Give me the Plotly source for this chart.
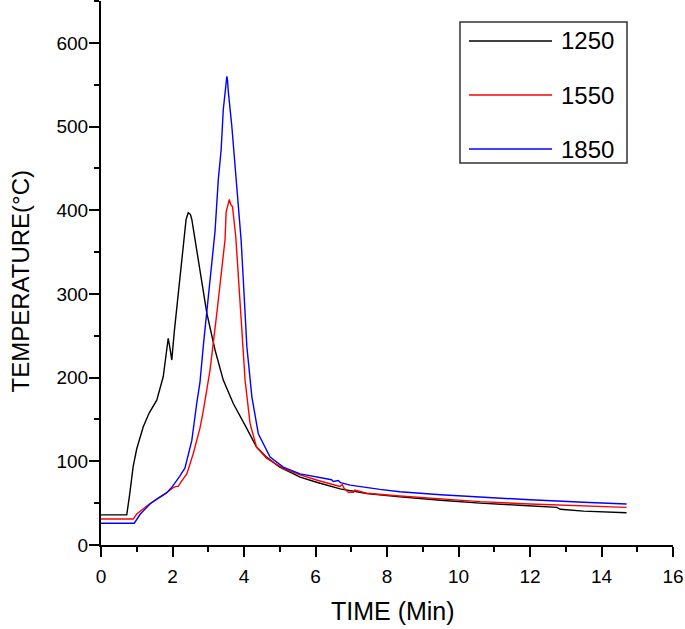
import plotly.graph_objects as go

# ---- data ----
t_1250 = [0, 0.72, 0.8, 0.9, 1.0, 1.18, 1.35, 1.56, 1.74, 1.82, 1.88, 1.93, 1.98, 2.05,
          2.16, 2.30, 2.38, 2.44, 2.50, 2.54, 2.65, 2.77, 2.96, 3.19, 3.42, 3.70, 3.94,
          4.00, 4.08, 4.35, 4.63, 5.0, 5.57, 6.03, 6.69, 7.43, 8.36, 9.5, 10.6, 11.7,
          12.75, 12.85, 13.5, 14.7]
y_1250 = [36, 36, 60, 94, 115, 141, 158, 173, 201, 225, 247, 235, 221, 255,
          301, 357, 389, 397, 395, 389, 360, 329, 277, 233, 197, 169, 149,
          145, 139, 117, 105, 93, 81, 75, 67, 61.5, 57.5, 53.5, 50, 47.5,
          45, 42.7, 40.5, 38.6]

t_1550 = [0, 0.9, 1.0, 1.18, 1.37, 1.74, 2.02, 2.10, 2.16, 2.25, 2.40, 2.58, 2.68, 2.77,
          2.86, 3.05, 3.24, 3.38, 3.47, 3.50, 3.55, 3.59, 3.63, 3.68, 3.77, 3.84, 3.94,
          4.03, 4.17, 4.35, 4.63, 5.10, 5.57, 6.03, 6.5, 6.68, 6.75, 6.80, 6.92, 7.06,
          7.1, 7.43, 8.36, 9.5, 10.6, 12.0, 13.5, 14.7]
y_1550 = [31, 31, 37, 43.6, 49.6, 59.5, 68.6, 70, 70, 76, 85, 109, 125, 140,
          160, 209, 277, 329, 365, 398, 408, 413, 407, 404, 368, 317, 257,
          197, 145, 117, 103.6, 91.6, 83.7, 77.7, 71.7, 70, 72, 67.7, 63, 63,
          65.7, 61.8, 58.6, 55, 51.8, 49, 47, 45]

t_1850 = [0, 0.93, 1.1, 1.37, 1.6, 1.84, 2.0, 2.12, 2.20, 2.35, 2.45, 2.54, 2.68, 2.77,
          2.86, 3.05, 3.19, 3.28, 3.36, 3.42, 3.47, 3.52, 3.54, 3.56, 3.66, 3.75, 3.84,
          3.92, 3.98, 4.08, 4.22, 4.40, 4.73, 5.1, 5.57, 6.03, 6.45, 6.5, 6.64, 6.7,
          6.97, 7.8, 8.36, 9.5, 10.6, 12.0, 13.5, 14.7]
y_1850 = [26, 26, 37, 49, 56, 62.5, 70, 77, 82, 92, 108, 125, 170, 195,
          237, 317, 375, 436, 472, 520, 545, 560, 555, 542, 500, 452, 404,
          364, 317, 237, 177, 133, 105, 93, 85, 81, 78, 76, 77, 74.5,
          71.5, 66.5, 63.7, 60, 57, 54, 51, 49]

series_names = ["1250", "1550", "1850"]
series_colors = ["#000000", "#ff0000", "#0000ff"]
series_t = [t_1250, t_1550, t_1850]
series_y = [y_1250, y_1550, y_1850]

x_title = "TIME (Min)"
y_title = "TEMPERATURE(\u00b0C)"

FONT = "Arial, Liberation Sans, sans-serif"

fig = go.Figure()
for name, col, tt, yy in zip(series_names, series_colors, series_t, series_y):
    fig.add_trace(go.Scatter(x=tt, y=yy, mode="lines", name=name,
                             line=dict(color=col, width=1.4), showlegend=False))

# manual legend (box, sample lines and labels) in paper coordinates
bx0, bx1, by0, by1 = 0.6276, 0.9196, 0.7022, 0.9614
fig.add_shape(type="rect", xref="paper", yref="paper", x0=bx0, x1=bx1, y0=by0, y1=by1,
              line=dict(color="#333333", width=1.5), fillcolor="rgba(0,0,0,0)")
item_y = [0.9265, 0.8272, 0.7279]
for name, col, iy in zip(series_names, series_colors, item_y):
    fig.add_shape(type="line", xref="paper", yref="paper", x0=0.6434, x1=0.7885,
                  y0=iy, y1=iy, line=dict(color=col, width=1.4))
    fig.add_annotation(xref="paper", yref="paper", x=0.800, y=iy, text=name,
                       showarrow=False, xanchor="left", yanchor="middle",
                       font=dict(family=FONT, size=24, color="black"))

# axis titles placed as annotations
fig.add_annotation(xref="paper", yref="paper", x=0.5105, y=-0.1213, text=x_title,
                   showarrow=False, xanchor="center", yanchor="middle",
                   font=dict(family=FONT, size=25, color="black"))
fig.add_annotation(xref="paper", yref="paper", x=-0.1399, y=0.4844, text=y_title,
                   showarrow=False, xanchor="center", yanchor="middle", textangle=-90,
                   font=dict(family=FONT, size=24, color="black"))

axis_common = dict(showline=True, linecolor="black", linewidth=2, mirror=False,
                   showgrid=False, zeroline=False, ticks="outside", tickwidth=2,
                   ticklen=10, tickcolor="black", automargin=False,
                   tickfont=dict(family=FONT, size=19, color="black"))

fig.update_xaxes(range=[0, 16], dtick=2, tick0=0, ticklabelstandoff=3,
                 minor=dict(dtick=1, ticks="outside", ticklen=5, tickwidth=2, tickcolor="black"),
                 **axis_common)
fig.update_yaxes(range=[0, 650], dtick=100, tick0=0, ticklabelstandoff=-3,
                 minor=dict(dtick=50, ticks="outside", ticklen=5, tickwidth=2, tickcolor="black"),
                 **axis_common)

fig.update_layout(width=685, height=629, plot_bgcolor="white", paper_bgcolor="white",
                  margin=dict(l=101, r=12, t=1, b=84), showlegend=False,
                  font=dict(family=FONT, color="black"))

fig.write_html("out.html", config={"displayModeBar": False},
               post_script="document.body.style.margin='0';document.body.style.padding='0';")
